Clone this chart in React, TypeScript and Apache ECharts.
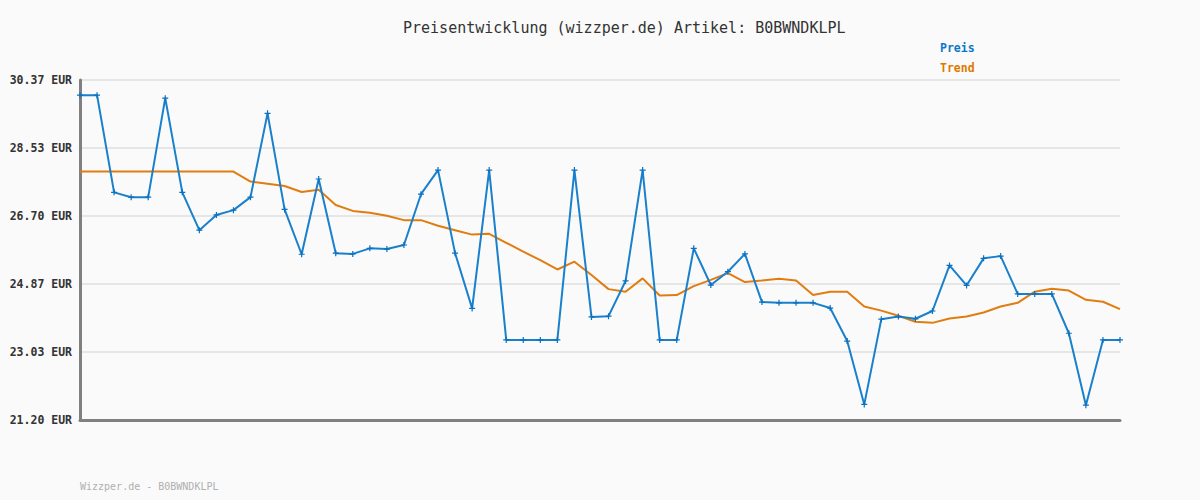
import React, { useEffect, useRef } from "react";
import * as echarts from "echarts";

const titleText = "Preisentwicklung (wizzper.de) Artikel: B0BWNDKLPL";
const footerText = "Wizzper.de - B0BWNDKLPL";

const categories: string[] = Array.from({ length: 62 }, (_, i) => String(i + 1));

const preis: number[] = [
  29.96, 29.96, 27.34, 27.21, 27.21, 29.88, 27.34, 26.32, 26.73, 26.86,
  27.21, 29.47, 26.88, 25.67, 27.70, 25.70, 25.68, 25.83, 25.81, 25.92,
  27.29, 27.94, 25.70, 24.21, 27.94, 23.36, 23.36, 23.36, 23.36, 27.94,
  23.98, 24.00, 24.95, 27.94, 23.36, 23.36, 25.83, 24.84, 25.20, 25.68,
  24.38, 24.36, 24.36, 24.36, 24.22, 23.33, 21.62, 23.92, 23.99, 23.93,
  24.14, 25.37, 24.83, 25.56, 25.62, 24.60, 24.60, 24.60, 23.54, 21.60,
  23.36, 23.36,
];

const trend: number[] = [
  27.90, 27.90, 27.90, 27.90, 27.90, 27.90, 27.90, 27.90, 27.90, 27.90,
  27.63, 27.57, 27.51, 27.35, 27.41, 27.00, 26.84, 26.79, 26.71, 26.59,
  26.59, 26.44, 26.32, 26.20, 26.22, 25.98, 25.74, 25.51, 25.26, 25.47,
  25.11, 24.73, 24.66, 25.02, 24.56, 24.57, 24.81, 24.98, 25.16, 24.92,
  24.96, 25.01, 24.96, 24.57, 24.66, 24.66, 24.26, 24.15, 24.01, 23.85,
  23.82, 23.94, 23.99, 24.10, 24.26, 24.36, 24.66, 24.74, 24.69, 24.44,
  24.39, 24.19,
];

const tickValues: number[] = [21.2, 23.034, 24.868, 26.702, 28.536, 30.37];
const tickLabels: string[] = ["21.20 EUR", "23.03 EUR", "24.87 EUR", "26.70 EUR", "28.53 EUR", "30.37 EUR"];

const MONO = "'DejaVu Sans Mono', monospace";
const BLUE = "#1a80cc";
const ORANGE = "#e07d10";

export default function App() {
  const ref = useRef<HTMLDivElement>(null);
  useEffect(() => {
    if (!ref.current) return;
    const chart = echarts.init(ref.current, undefined, { renderer: "svg" });
    const crossPath = "path://M2,0H3V2H5V3H3V5H2V3H0V2H2Z";
    chart.setOption({
      animation: false,
      backgroundColor: "#fafafa",
      grid: { left: 80, right: 80, top: 80, bottom: 80, containLabel: false },
      xAxis: {
        type: "category",
        data: categories,
        boundaryGap: false,
        axisLine: { show: true, lineStyle: { color: "#808080", width: 3 } },
        axisTick: { show: false },
        axisLabel: { show: false },
        splitLine: { show: false },
      },
      yAxis: {
        type: "value",
        min: 21.2,
        max: 30.37,
        axisLine: { show: true, lineStyle: { color: "#808080", width: 3 } },
        axisTick: { show: false, customValues: tickValues },
        splitLine: { show: true, lineStyle: { color: "#e6e6e6", width: 2 } },
        axisLabel: {
          customValues: tickValues,
          margin: 8,
          fontFamily: MONO,
          fontSize: 11.5,
          fontWeight: "bold",
          color: "#333333",
          formatter: (v: number) => {
            let best = 0;
            for (let i = 0; i < tickValues.length; i++) {
              if (Math.abs(tickValues[i] - v) < Math.abs(tickValues[best] - v)) best = i;
            }
            return tickLabels[best];
          },
        },
      },
      series: [
        {
          name: "Trend",
          type: "line",
          data: trend,
          showSymbol: false,
          symbol: "none",
          lineStyle: { color: ORANGE, width: 2 },
          itemStyle: { color: ORANGE },
          z: 2,
        },
        {
          name: "Preis",
          type: "line",
          data: preis,
          symbol: crossPath,
          symbolSize: 6,
          showSymbol: true,
          lineStyle: { color: BLUE, width: 2 },
          itemStyle: { color: "#0a70c0" },
          z: 3,
        },
      ],
      graphic: [
        {
          type: "text",
          left: 403,
          top: 20,
          style: { text: titleText, font: `15px ${MONO}`, fill: "#333333" },
        },
        {
          type: "text",
          left: 940,
          top: 42,
          style: { text: "Preis", font: `bold 11.5px ${MONO}`, fill: "#0a78c8" },
        },
        {
          type: "text",
          left: 940,
          top: 62,
          style: { text: "Trend", font: `bold 11.5px ${MONO}`, fill: "#e07800" },
        },
        {
          type: "text",
          left: 80,
          top: 481,
          style: { text: footerText, font: `10px ${MONO}`, fill: "#b0b0b0" },
        },
      ],
    });
    return () => chart.dispose();
  }, []);
  return (
    <div
      ref={ref}
      style={{ position: "fixed", left: 0, top: 0, width: 1200, height: 500 }}
    />
  );
}
